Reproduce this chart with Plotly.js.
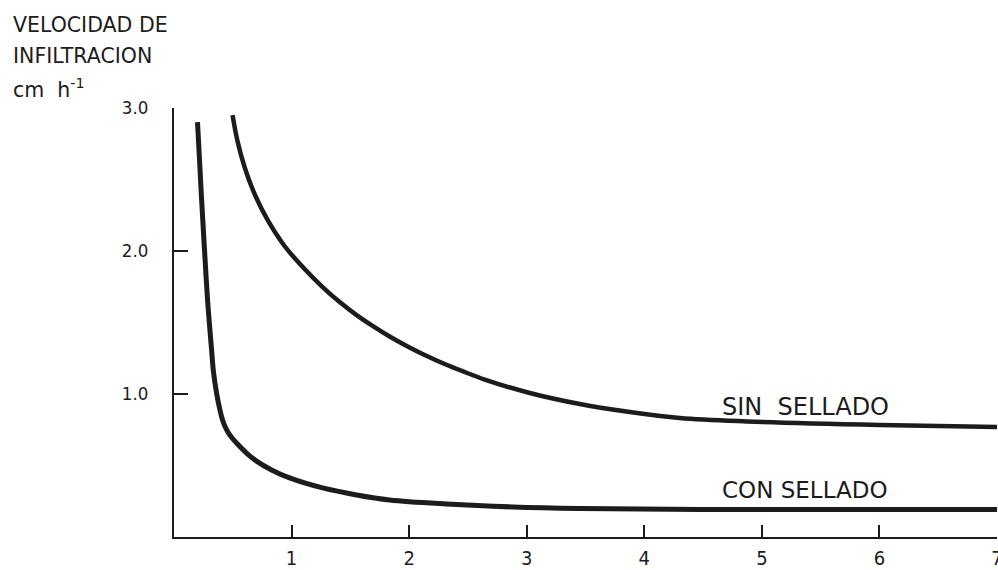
<!DOCTYPE html>
<html>
<head>
<meta charset="utf-8">
<script src="https://cdn.plot.ly/plotly-3.0.1.min.js"></script>
<style>html,body{margin:0;padding:0;background:#fff;}#chart{width:998px;height:570px;}</style>
</head>
<body>
<div id="chart"></div>
<script>
// Time (hours) and infiltration rate (cm/h)
const sinX = [0.498, 0.540, 0.600, 0.685, 0.796, 0.940, 1.111, 1.264, 1.409, 1.553, 1.689, 1.834, 1.979, 2.132, 2.302, 2.472, 2.643, 3.026, 3.451, 3.877, 4.302, 4.872, 6.004, 7.000];
const sinY = [2.951, 2.769, 2.587, 2.399, 2.217, 2.035, 1.874, 1.748, 1.643, 1.552, 1.476, 1.402, 1.336, 1.273, 1.210, 1.154, 1.101, 1.007, 0.930, 0.874, 0.832, 0.808, 0.783, 0.769];
const conX = [0.200, 0.234, 0.260, 0.285, 0.319, 0.336, 0.362, 0.387, 0.413, 0.438, 0.464, 0.498, 0.532, 0.617, 0.702, 0.830, 0.983, 1.264, 1.553, 1.834, 2.319, 2.881, 3.451, 4.472, 7.000];
const conY = [2.902, 2.371, 2.000, 1.664, 1.315, 1.154, 1.007, 0.902, 0.818, 0.766, 0.727, 0.689, 0.657, 0.587, 0.531, 0.469, 0.413, 0.343, 0.294, 0.259, 0.231, 0.210, 0.199, 0.192, 0.192];
const xTicks = [1, 2, 3, 4, 5, 6, 7];
const yTicks = [1, 2, 3];
const yTickText = ['1.0', '2.0', '3.0'];
const seriesNames = ['SIN\u00A0\u00A0SELLADO', 'CON\u00A0SELLADO'];
const seriesLabelSizes = [24, 23];
const labelPos = [[4.64, 0.91], [4.64, 0.33]];
const titleLines = ['VELOCIDAD DE', 'INFILTRACION', 'cm\u00A0\u00A0h<sup>-1</sup>'];

const W = 998, H = 570;
const M = {l: 174, r: 1, t: 108, b: 33};
const pw = W - M.l - M.r, ph = H - M.t - M.b;
const px2paperX = p => (p - M.l) / pw;
const px2paperY = p => (H - M.b - p) / ph;

const ink = '#1c1c1c';
const fontN = 'DejaVu Sans, sans-serif';
const fontC = 'DejaVu Sans Condensed, DejaVu Sans, sans-serif';

const traces = [
  {x: sinX, y: sinY, mode: 'lines', line: {color: ink, width: 4.5, shape: 'spline', smoothing: 1}, hoverinfo: 'skip'},
  {x: conX, y: conY, mode: 'lines', line: {color: ink, width: 5, shape: 'spline', smoothing: 1}, hoverinfo: 'skip'}
];

const annotations = [];
const titleYs = [25, 56, 88];
titleLines.forEach((t, i) => annotations.push({
  text: t, xref: 'paper', yref: 'paper', x: px2paperX(11), y: px2paperY(titleYs[i]),
  xanchor: 'left', yanchor: 'middle', showarrow: false,
  font: {family: fontN, size: 20.5, color: ink}
}));
seriesNames.forEach((t, i) => annotations.push({
  text: t, x: labelPos[i][0], y: labelPos[i][1], xref: 'x', yref: 'y',
  xanchor: 'left', yanchor: 'middle', showarrow: false,
  font: {family: fontN, size: seriesLabelSizes[i], color: ink}
}));

const layout = {
  width: W, height: H,
  margin: M,
  paper_bgcolor: '#fff', plot_bgcolor: '#fff',
  showlegend: false,
  xaxis: {
    range: [0, 7], showgrid: false, zeroline: false,
    showline: true, linecolor: ink, linewidth: 2,
    tickvals: xTicks, ticks: 'inside', ticklen: 12, tickwidth: 2, tickcolor: ink,
    tickfont: {family: fontC, size: 20, color: ink}, ticklabelstandoff: 2,
    ticklabeloverflow: 'allow'
  },
  yaxis: {
    range: [0, 3], showgrid: false, zeroline: false,
    showline: true, linecolor: ink, linewidth: 2,
    tickvals: yTicks, ticktext: yTickText, ticks: 'inside', ticklen: 14, tickwidth: 2, tickcolor: ink,
    tickfont: {family: fontC, size: 18.5, color: ink}, ticklabelstandoff: 20,
    ticklabeloverflow: 'allow'
  },
  annotations: annotations
};

Plotly.newPlot('chart', traces, layout, {staticPlot: true, displayModeBar: false});
</script>
</body>
</html>
